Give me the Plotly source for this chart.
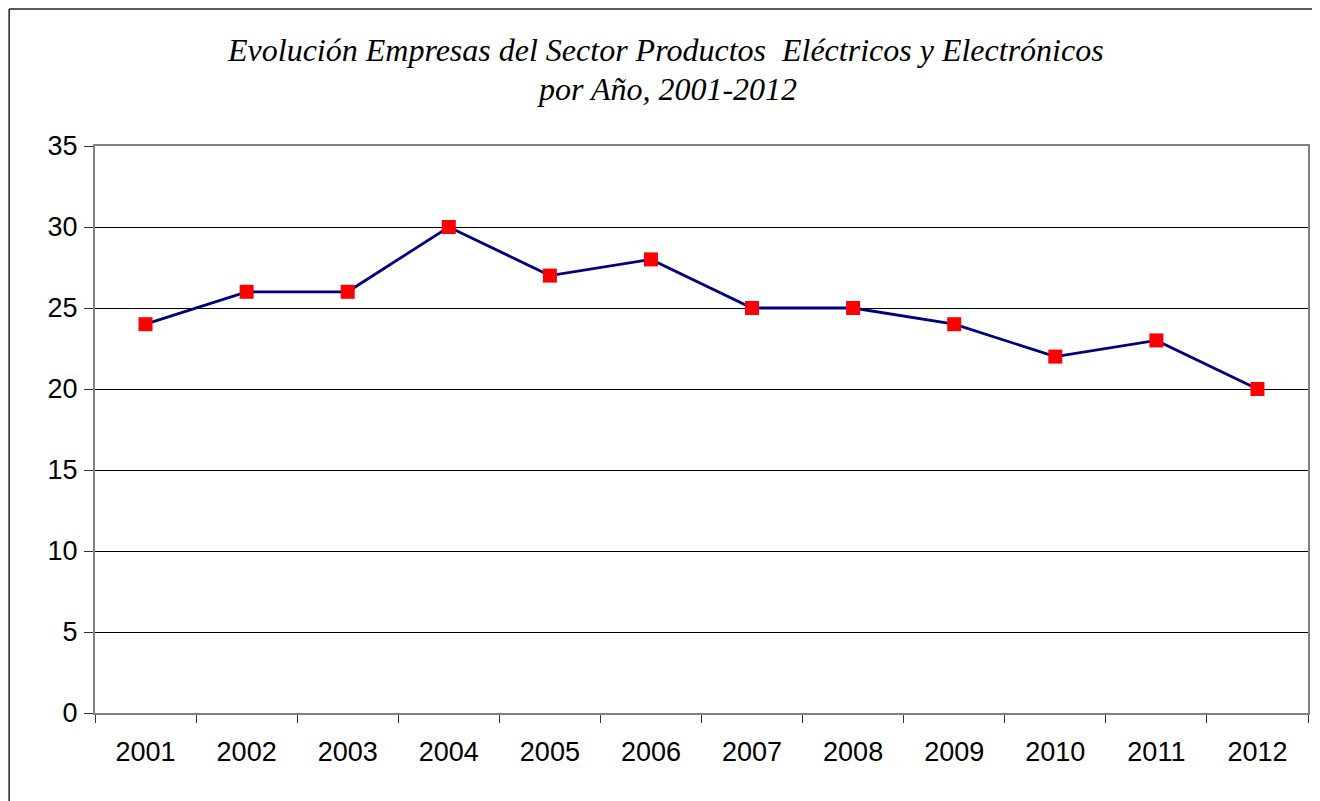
import plotly.graph_objects as go

years = ["2001", "2002", "2003", "2004", "2005", "2006", "2007", "2008", "2009", "2010", "2011", "2012"]
empresas = [24, 26, 26, 30, 27, 28, 25, 25, 24, 22, 23, 20]
title_line1 = "Evolución Empresas del Sector Productos&nbsp; Eléctricos y Electrónicos"
title_line2 = "por Año, 2001-2012"

# the page body has an 8px margin; work in screen pixels and shift
OFF = 8
W, H = 1320 - OFF, 801 - OFF
L, R, T, B = 95 - OFF, 10, 146 - OFF, 88
pw, ph = W - L - R, H - T - B

def px_x(p):
    return (p - OFF - L) / pw

def px_y(p):
    return (H - B - (p - OFF)) / ph

fig = go.Figure()
fig.add_trace(go.Scatter(
    x=years, y=empresas, mode="lines+markers",
    line=dict(color="#000080", width=2.8),
    marker=dict(symbol="square", size=14, color="#ff0000", line=dict(width=0)),
    showlegend=False, hoverinfo="x+y",
))

axis_font = dict(family="Liberation Sans, Arial, sans-serif", size=27, color="#000000")

fig.update_layout(
    width=W, height=H,
    margin=dict(l=L, r=R, t=T, b=B, pad=0),
    paper_bgcolor="#ffffff", plot_bgcolor="#ffffff",
    xaxis=dict(
        type="category", range=[-0.5, 11.5], tickson="boundaries",
        ticks="outside", ticklen=8, tickwidth=1, tickcolor="#333333",
        showline=True, linecolor="#808080", linewidth=2, mirror=True,
        showgrid=False, zeroline=False, tickfont=axis_font, ticklabelstandoff=14,
        fixedrange=True,
    ),
    yaxis=dict(
        range=[0, 35], dtick=5, tick0=0,
        ticks="outside", ticklen=9, tickwidth=1, tickcolor="#333333",
        showline=True, linecolor="#808080", linewidth=2, mirror=True,
        showgrid=True, gridcolor="#000000", gridwidth=1, zeroline=False,
        tickfont=axis_font, ticklabelstandoff=1, fixedrange=True,
    ),
    font=dict(family="Liberation Sans, Arial, sans-serif"),
)

title_font = dict(family="Liberation Serif, Times New Roman, serif", size=32, color="#000000")
fig.add_annotation(text="<i>" + title_line1 + "</i>", xref="paper", yref="paper",
                   x=px_x(666), y=px_y(50), xanchor="center", yanchor="middle",
                   showarrow=False, font=title_font)
fig.add_annotation(text="<i>" + title_line2 + "</i>", xref="paper", yref="paper",
                   x=px_x(668), y=px_y(89), xanchor="center", yanchor="middle",
                   showarrow=False, font=title_font)

# outer chart-area border: only top and left edges are visible in the frame
border = dict(color="#222222", width=1.5)
fig.add_shape(type="line", xref="paper", yref="paper",
              x0=px_x(9), y0=px_y(9), x1=px_x(1340), y1=px_y(9), line=border)
fig.add_shape(type="line", xref="paper", yref="paper",
              x0=px_x(9), y0=px_y(9), x1=px_x(9), y1=px_y(830), line=border)

fig.write_html("out.html")
